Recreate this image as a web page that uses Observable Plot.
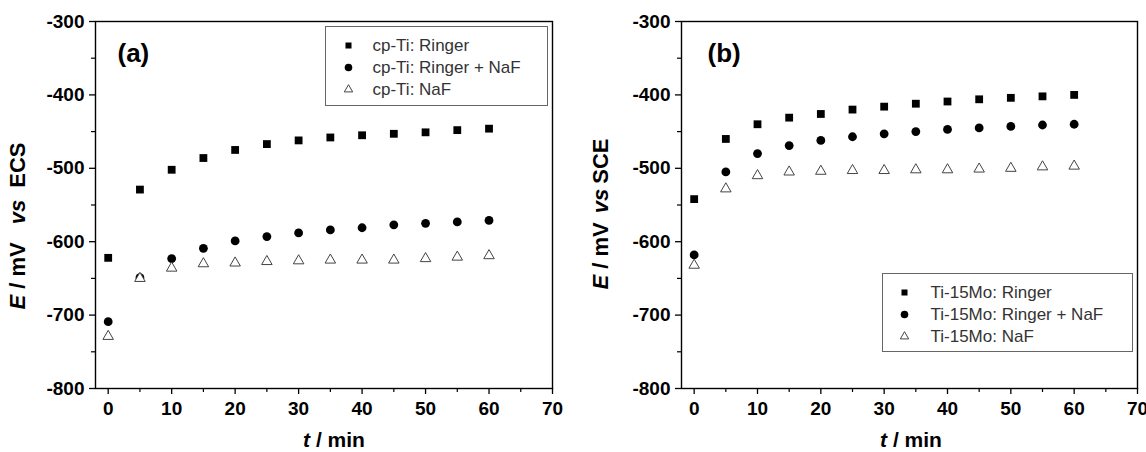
<!DOCTYPE html>
<html>
<head>
<meta charset="utf-8">
<script src="https://cdn.jsdelivr.net/npm/d3@7"></script>
<script src="https://cdn.jsdelivr.net/npm/@observablehq/plot@0.6"></script>
<style>
  html, body { margin: 0; padding: 0; background: #fff; }
  #wrap { display: flex; width: 1146px; height: 452px; overflow: hidden; }
</style>
</head>
<body>
<div id="wrap"></div>
<script>
// ---- data ----
const times = [0, 5, 10, 15, 20, 25, 30, 35, 40, 45, 50, 55, 60];

const cpRinger    = [-622, -529, -502, -486, -475, -467, -462, -458, -455, -453, -451, -448, -446];
const cpRingerNaF = [-709, -649, -623, -609, -599, -593, -588, -584, -581, -577, -575, -573, -571];
const cpNaF       = [-729, -650, -636, -630, -629, -627, -626, -625, -625, -625, -623, -621, -619];

const moRinger    = [-542, -460, -440, -431, -426, -420, -416, -412, -409, -406, -404, -402, -400];
const moRingerNaF = [-618, -505, -480, -469, -462, -457, -453, -450, -447, -445, -443, -441, -440];
const moNaF       = [-632, -528, -510, -505, -504, -503, -503, -502, -502, -501, -500, -498, -497];

const yMajor = [-800, -700, -600, -500, -400, -300];
const yMinor = [-750, -650, -550, -450, -350];
const xMajor = [0, 10, 20, 30, 40, 50, 60, 70];
const xMinor = [5, 15, 25, 35, 45, 55, 65];

const legendA = ["cp-Ti: Ringer", "cp-Ti: Ringer + NaF", "cp-Ti: NaF"];
const legendB = ["Ti-15Mo: Ringer", "Ti-15Mo: Ringer + NaF", "Ti-15Mo: NaF"];

const toRows = (vals) => times.map((t, i) => ({t, E: vals[i]}));

const FONT = "'Liberation Sans', Arial, Helvetica, sans-serif";

function panel(cfg) {
  const W = 573, H = 452;
  const lg = cfg.legend;
  const marks = [
    Plot.frame({stroke: "#000", strokeWidth: 1.4}),
    Plot.axisY({ticks: yMajor, tickSize: 6, tickPadding: 5, tickFormat: d => `${d}`,
      fontSize: 19, fontWeight: "bold", label: null, stroke: "#000", strokeWidth: 1.3}),
    Plot.axisY({ticks: yMinor, tickSize: 4, text: null, label: null, strokeWidth: 1.2}),
    Plot.axisX({ticks: xMajor, tickSize: 6, tickPadding: 7, tickFormat: d => `${d}`,
      fontSize: 19, fontWeight: "bold", label: null, strokeWidth: 1.3}),
    Plot.axisX({ticks: xMinor, tickSize: 4, text: null, label: null, strokeWidth: 1.2}),
    Plot.dot(toRows(cfg.ringer), {x: "t", y: "E", symbol: "square", r: 4.4, fill: "#000", stroke: "none"}),
    Plot.dot(toRows(cfg.ringerNaF), {x: "t", y: "E", symbol: "circle", r: 4.4, fill: "#000", stroke: "none"}),
    Plot.dot(toRows(cfg.naf), {x: "t", y: "E", symbol: "triangle", r: 3.9, fill: "#fff", stroke: "#444", strokeWidth: 1}),
    // panel letter
    Plot.text([cfg.letter], {frameAnchor: "top-left", dx: cfg.letterDx, dy: 32, textAnchor: "start",
      lineAnchor: "middle", fontSize: 26, fontWeight: "bold", fill: "#000"}),
    // legend box
    Plot.frame({insetLeft: lg.box[0], insetRight: lg.box[1], insetTop: lg.box[2], insetBottom: lg.box[3],
      stroke: "#666", strokeWidth: 1, fill: "#fff"})
  ];
  const syms = [
    {symbol: "square", r: 3.4, fill: "#000", stroke: "none"},
    {symbol: "circle", r: 3.8, fill: "#000", stroke: "none"},
    {symbol: "triangle", r: 3.1, fill: "#fff", stroke: "#444", strokeWidth: 1}
  ];
  lg.labels.forEach((lab, i) => {
    const dy = lg.rows[i];
    marks.push(Plot.dot([lab], {x: null, y: null, frameAnchor: "top-left", dx: lg.markerDx, dy, ...syms[i]}));
    marks.push(Plot.text([lab], {frameAnchor: "top-left", dx: lg.textDx, dy, textAnchor: "start",
      lineAnchor: "middle", fontSize: 17, fill: "#333"}));
  });

  const svg = Plot.plot({
    width: W, height: H,
    marginLeft: cfg.marginLeft, marginRight: cfg.marginRight, marginTop: 21, marginBottom: 64,
    x: {domain: [-2, 70]},
    y: {domain: [-800, -300]},
    style: {fontFamily: FONT, background: "#fff", color: "#000", overflow: "visible"},
    marks
  });

  const s = d3.select(svg);
  // y-axis title
  const yt = s.append("text")
    .attr("transform", `translate(${cfg.yTitleX},${cfg.yTitleY}) rotate(-90)`)
    .attr("text-anchor", "middle")
    .attr("dominant-baseline", "middle")
    .attr("font-family", FONT).attr("font-size", 22).attr("font-weight", "bold").attr("fill", "#000");
  yt.append("tspan").attr("font-style", "italic").text("E");
  yt.append("tspan").text(" / mV");
  yt.append("tspan").attr("dx", cfg.vsGap).attr("font-style", "italic").text("vs");
  yt.append("tspan").attr("dx", cfg.refGap).text(cfg.ref);
  // x-axis title
  const xt = s.append("text")
    .attr("x", cfg.xTitleX).attr("y", 447)
    .attr("text-anchor", "middle")
    .attr("font-family", FONT).attr("font-size", 21).attr("font-weight", "bold").attr("fill", "#000");
  xt.append("tspan").attr("font-style", "italic").text("t");
  xt.append("tspan").text(" / min");
  return svg;
}

const wrap = document.getElementById("wrap");
wrap.appendChild(panel({
  marginLeft: 95, marginRight: 21,
  ringer: cpRinger, ringerNaF: cpRingerNaF, naf: cpNaF,
  letter: "(a)", letterDx: 22,
  legend: {labels: legendA, box: [230, 5, 5, 283], markerDx: 253, textDx: 277, rows: [24, 46, 68]},
  yTitleX: 19, yTitleY: 226, vsGap: 18, refGap: 12, ref: "ECS",
  xTitleX: 334
}));
wrap.appendChild(panel({
  marginLeft: 108, marginRight: 9,
  ringer: moRinger, ringerNaF: moRingerNaF, naf: moNaF,
  letter: "(b)", letterDx: 26,
  legend: {labels: legendB, box: [201, 5, 252, 37], markerDx: 223, textDx: 249, rows: [271, 293, 315]},
  yTitleX: 29, yTitleY: 214, vsGap: 9, refGap: 5, ref: "SCE",
  xTitleX: 338
}));
</script>
</body>
</html>
